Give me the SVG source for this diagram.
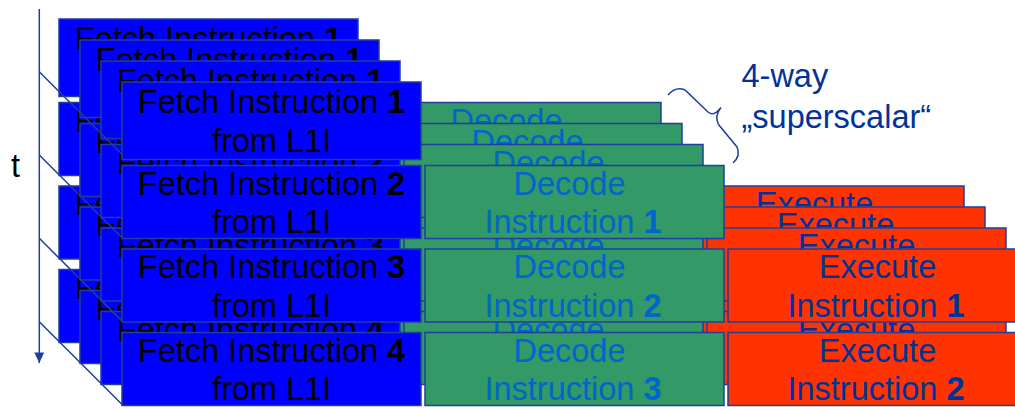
<svg xmlns="http://www.w3.org/2000/svg" width="1015" height="410" viewBox="0 0 1015 410">
  <defs>
    <style>
      .box { stroke: #1f3f9c; stroke-width: 1.5; }
      .f { fill: #0000ff; }
      .d { fill: #339966; }
      .e { fill: #ff3300; }
      text { font-family: "Liberation Sans", Arial, sans-serif; font-size: 32.5px; text-anchor: middle; }
      .ft { fill: #000000; }
      .dt { fill: #0066cc; }
      .et { fill: #003399; }
      .b { font-weight: bold; }
      .wire { stroke: #1f3f9c; stroke-width: 1.5; fill: none; }
      .note { fill: #003399; text-anchor: start; }
    </style>
    <marker id="arrow" markerUnits="userSpaceOnUse" markerWidth="11" markerHeight="11" refX="10.6" refY="5" orient="auto">
      <path d="M0,0 L10.6,5 L0,10 Z" fill="#1f3f9c"/>
    </marker>
  </defs>
  <rect width="1015" height="410" fill="#ffffff"/>

  <!-- back layer 0 -->
  <g id="layer0">
    <g id="l0-fetch1"><rect class="box f" x="59" y="19" width="299" height="77.5"/><text class="ft" x="208.5" y="50.3">Fetch Instruction <tspan class="b">1</tspan></text><text class="ft" x="208.5" y="88.8">from L1I</text></g>
    <g id="l0-fetch2"><rect class="box f" x="59" y="102.5" width="299" height="73"/><text class="ft" x="208.5" y="131.5">Fetch Instruction <tspan class="b">2</tspan></text><text class="ft" x="208.5" y="170">from L1I</text></g>
    <g id="l0-fetch3"><rect class="box f" x="59" y="186" width="299" height="73"/><text class="ft" x="208.5" y="215">Fetch Instruction <tspan class="b">3</tspan></text><text class="ft" x="208.5" y="253.5">from L1I</text></g>
    <g id="l0-fetch4"><rect class="box f" x="59" y="269.5" width="299" height="73"/><text class="ft" x="208.5" y="298.5">Fetch Instruction <tspan class="b">4</tspan></text><text class="ft" x="208.5" y="337">from L1I</text></g>
    <g id="l0-decode1"><rect class="box d" x="362" y="102.5" width="299" height="73"/><text class="dt" x="506.5" y="131.5">Decode</text><text class="dt" x="510" y="170">Instruction <tspan class="b">1</tspan></text></g>
    <g id="l0-decode2"><rect class="box d" x="362" y="186" width="299" height="73"/><text class="dt" x="506.5" y="215">Decode</text><text class="dt" x="510" y="253.5">Instruction <tspan class="b">2</tspan></text></g>
    <g id="l0-decode3"><rect class="box d" x="362" y="269.5" width="299" height="73"/><text class="dt" x="506.5" y="298.5">Decode</text><text class="dt" x="510" y="337">Instruction <tspan class="b">3</tspan></text></g>
    <g id="l0-exec1"><rect class="box e" x="665" y="186" width="299" height="73"/><text class="et" x="814.5" y="215">Execute</text><text class="et" x="813" y="253.5">Instruction <tspan class="b">1</tspan></text></g>
    <g id="l0-exec2"><rect class="box e" x="665" y="269.5" width="299" height="73"/><text class="et" x="814.5" y="298.5">Execute</text><text class="et" x="813" y="337">Instruction <tspan class="b">2</tspan></text></g>
  </g>

  <!-- layer 1 -->
  <g id="layer1" transform="translate(21,21)">
    <g id="l1-fetch1"><rect class="box f" x="59" y="19" width="299" height="77.5"/><text class="ft" x="208.5" y="50.3">Fetch Instruction <tspan class="b">1</tspan></text><text class="ft" x="208.5" y="88.8">from L1I</text></g>
    <g id="l1-fetch2"><rect class="box f" x="59" y="102.5" width="299" height="73"/><text class="ft" x="208.5" y="131.5">Fetch Instruction <tspan class="b">2</tspan></text><text class="ft" x="208.5" y="170">from L1I</text></g>
    <g id="l1-fetch3"><rect class="box f" x="59" y="186" width="299" height="73"/><text class="ft" x="208.5" y="215">Fetch Instruction <tspan class="b">3</tspan></text><text class="ft" x="208.5" y="253.5">from L1I</text></g>
    <g id="l1-fetch4"><rect class="box f" x="59" y="269.5" width="299" height="73"/><text class="ft" x="208.5" y="298.5">Fetch Instruction <tspan class="b">4</tspan></text><text class="ft" x="208.5" y="337">from L1I</text></g>
    <g id="l1-decode1"><rect class="box d" x="362" y="102.5" width="299" height="73"/><text class="dt" x="506.5" y="131.5">Decode</text><text class="dt" x="510" y="170">Instruction <tspan class="b">1</tspan></text></g>
    <g id="l1-decode2"><rect class="box d" x="362" y="186" width="299" height="73"/><text class="dt" x="506.5" y="215">Decode</text><text class="dt" x="510" y="253.5">Instruction <tspan class="b">2</tspan></text></g>
    <g id="l1-decode3"><rect class="box d" x="362" y="269.5" width="299" height="73"/><text class="dt" x="506.5" y="298.5">Decode</text><text class="dt" x="510" y="337">Instruction <tspan class="b">3</tspan></text></g>
    <g id="l1-exec1"><rect class="box e" x="665" y="186" width="299" height="73"/><text class="et" x="814.5" y="215">Execute</text><text class="et" x="813" y="253.5">Instruction <tspan class="b">1</tspan></text></g>
    <g id="l1-exec2"><rect class="box e" x="665" y="269.5" width="299" height="73"/><text class="et" x="814.5" y="298.5">Execute</text><text class="et" x="813" y="337">Instruction <tspan class="b">2</tspan></text></g>
  </g>

  <!-- layer 2 -->
  <g id="layer2" transform="translate(42,42)">
    <g id="l2-fetch1"><rect class="box f" x="59" y="19" width="299" height="77.5"/><text class="ft" x="208.5" y="50.3">Fetch Instruction <tspan class="b">1</tspan></text><text class="ft" x="208.5" y="88.8">from L1I</text></g>
    <g id="l2-fetch2"><rect class="box f" x="59" y="102.5" width="299" height="73"/><text class="ft" x="208.5" y="131.5">Fetch Instruction <tspan class="b">2</tspan></text><text class="ft" x="208.5" y="170">from L1I</text></g>
    <g id="l2-fetch3"><rect class="box f" x="59" y="186" width="299" height="73"/><text class="ft" x="208.5" y="215">Fetch Instruction <tspan class="b">3</tspan></text><text class="ft" x="208.5" y="253.5">from L1I</text></g>
    <g id="l2-fetch4"><rect class="box f" x="59" y="269.5" width="299" height="73"/><text class="ft" x="208.5" y="298.5">Fetch Instruction <tspan class="b">4</tspan></text><text class="ft" x="208.5" y="337">from L1I</text></g>
    <g id="l2-decode1"><rect class="box d" x="362" y="102.5" width="299" height="73"/><text class="dt" x="506.5" y="131.5">Decode</text><text class="dt" x="510" y="170">Instruction <tspan class="b">1</tspan></text></g>
    <g id="l2-decode2"><rect class="box d" x="362" y="186" width="299" height="73"/><text class="dt" x="506.5" y="215">Decode</text><text class="dt" x="510" y="253.5">Instruction <tspan class="b">2</tspan></text></g>
    <g id="l2-decode3"><rect class="box d" x="362" y="269.5" width="299" height="73"/><text class="dt" x="506.5" y="298.5">Decode</text><text class="dt" x="510" y="337">Instruction <tspan class="b">3</tspan></text></g>
    <g id="l2-exec1"><rect class="box e" x="665" y="186" width="299" height="73"/><text class="et" x="814.5" y="215">Execute</text><text class="et" x="813" y="253.5">Instruction <tspan class="b">1</tspan></text></g>
    <g id="l2-exec2"><rect class="box e" x="665" y="269.5" width="299" height="73"/><text class="et" x="814.5" y="298.5">Execute</text><text class="et" x="813" y="337">Instruction <tspan class="b">2</tspan></text></g>
  </g>

  <!-- time axis, cycle lines and brace -->
  <g id="connectors">
    <line class="wire" x1="39.3" y1="9" x2="39.3" y2="363" marker-end="url(#arrow)"/>
    <line class="wire" x1="39.3" y1="71.7" x2="122.6" y2="155"/>
    <line class="wire" x1="39.3" y1="155" x2="122.6" y2="238.3"/>
    <line class="wire" x1="39.3" y1="238.3" x2="122.6" y2="321.6"/>
    <line class="wire" x1="39.3" y1="321.7" x2="122.6" y2="405"/>
    <path class="wire" d="M668,95 Q676,86 685,90 L708,112 Q714,117 721,107.5 Q714,116 718.5,124.5 L737,147 Q741,156 733,163"/>
  </g>

  <!-- front layer 3 -->
  <g id="layer3" transform="translate(63,63)">
    <g id="l3-fetch1"><rect class="box f" x="59" y="19" width="299" height="77.5"/><text class="ft" x="208.5" y="50.3">Fetch Instruction <tspan class="b">1</tspan></text><text class="ft" x="208.5" y="88.8">from L1I</text></g>
    <g id="l3-fetch2"><rect class="box f" x="59" y="102.5" width="299" height="73"/><text class="ft" x="208.5" y="131.5">Fetch Instruction <tspan class="b">2</tspan></text><text class="ft" x="208.5" y="170">from L1I</text></g>
    <g id="l3-fetch3"><rect class="box f" x="59" y="186" width="299" height="73"/><text class="ft" x="208.5" y="215">Fetch Instruction <tspan class="b">3</tspan></text><text class="ft" x="208.5" y="253.5">from L1I</text></g>
    <g id="l3-fetch4"><rect class="box f" x="59" y="269.5" width="299" height="73"/><text class="ft" x="208.5" y="298.5">Fetch Instruction <tspan class="b">4</tspan></text><text class="ft" x="208.5" y="337">from L1I</text></g>
    <g id="l3-decode1"><rect class="box d" x="362" y="102.5" width="299" height="73"/><text class="dt" x="506.5" y="131.5">Decode</text><text class="dt" x="510" y="170">Instruction <tspan class="b">1</tspan></text></g>
    <g id="l3-decode2"><rect class="box d" x="362" y="186" width="299" height="73"/><text class="dt" x="506.5" y="215">Decode</text><text class="dt" x="510" y="253.5">Instruction <tspan class="b">2</tspan></text></g>
    <g id="l3-decode3"><rect class="box d" x="362" y="269.5" width="299" height="73"/><text class="dt" x="506.5" y="298.5">Decode</text><text class="dt" x="510" y="337">Instruction <tspan class="b">3</tspan></text></g>
    <g id="l3-exec1"><rect class="box e" x="665" y="186" width="299" height="73"/><text class="et" x="814.5" y="215">Execute</text><text class="et" x="813" y="253.5">Instruction <tspan class="b">1</tspan></text></g>
    <g id="l3-exec2"><rect class="box e" x="665" y="269.5" width="299" height="73"/><text class="et" x="814.5" y="298.5">Execute</text><text class="et" x="813" y="337">Instruction <tspan class="b">2</tspan></text></g>
  </g>

  <!-- labels -->
  <g id="time-label"><text class="ft" x="11" y="177" style="text-anchor:start">t</text></g>
  <g id="superscalar-label">
    <text class="note" x="741.5" y="86.7">4-way</text>
    <text class="note" x="741.5" y="128.3">„superscalar“</text>
  </g>
</svg>
